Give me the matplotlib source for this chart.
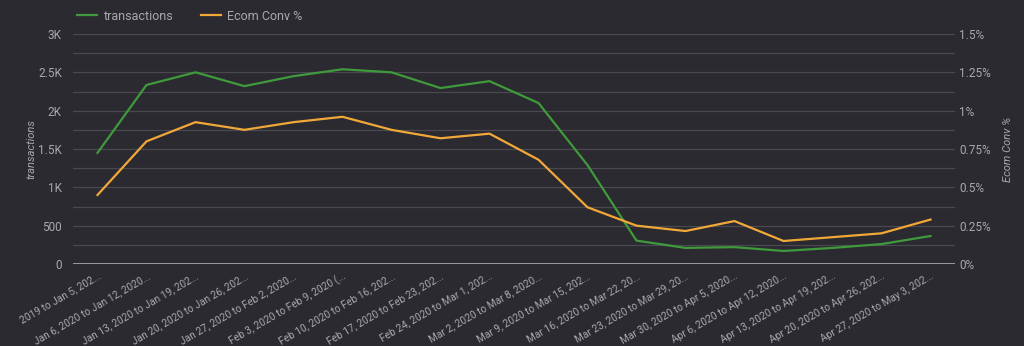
import numpy as np
import matplotlib.pyplot as plt
from matplotlib.ticker import FuncFormatter

weeks = [
    "2019 to Jan 5, 202...",
    "Jan 6, 2020 to Jan 12, 2020...",
    "Jan 13, 2020 to Jan 19, 202...",
    "Jan 20, 2020 to Jan 26, 202...",
    "Jan 27, 2020 to Feb 2, 2020...",
    "Feb 3, 2020 to Feb 9, 2020 (...",
    "Feb 10, 2020 to Feb 16, 202...",
    "Feb 17, 2020 to Feb 23, 202...",
    "Feb 24, 2020 to Mar 1, 202...",
    "Mar 2, 2020 to Mar 8, 2020...",
    "Mar 9, 2020 to Mar 15, 202...",
    "Mar 16, 2020 to Mar 22, 20...",
    "Mar 23, 2020 to Mar 29, 20...",
    "Mar 30, 2020 to Apr 5, 2020...",
    "Apr 6, 2020 to Apr 12, 2020...",
    "Apr 13, 2020 to Apr 19, 202...",
    "Apr 20, 2020 to Apr 26, 202...",
    "Apr 27, 2020 to May 3, 202...",
]
transactions = [1450, 2335, 2500, 2320, 2450, 2540, 2500, 2295, 2385, 2100,
                1290, 305, 210, 220, 170, 210, 260, 365]
ecom_conv = [0.45, 0.80, 0.925, 0.875, 0.925, 0.96, 0.875, 0.82, 0.85, 0.68,
             0.37, 0.25, 0.215, 0.28, 0.15, 0.175, 0.20, 0.29]

bg = '#2b2a30'
grid_col = '#4a4950'
txt = '#a9a9ad'
green = '#3f9a3c'
orange = '#f2a838'

plt.rcParams['font.family'] = ['Roboto', 'DejaVu Sans']

fig = plt.figure(figsize=(10.24, 3.46), dpi=100, facecolor=bg)
ax = fig.add_axes([73/1024, 1-264/346, (955-73)/1024, (264-34)/346])
ax.set_facecolor(bg)
ax2 = ax.twinx()

x = np.arange(len(weeks))
l1, = ax.plot(x, transactions, color=green, lw=1.6, label='transactions')
l2, = ax2.plot(x, ecom_conv, color=orange, lw=1.6, label='Ecom Conv %')

ax.set_xlim(-0.5, len(weeks) - 0.5)
ax.set_ylim(0, 3000)
ax2.set_ylim(0, 1.5)
ax.set_yticks(np.arange(0, 3001, 500))
ax.set_yticks(np.arange(250, 3000, 500), minor=True)
ax2.set_yticks(np.arange(0, 1.51, 0.25))

def k_fmt(v, pos):
    if v == 0:
        return '0'
    if v < 1000:
        return '%d' % v
    return ('%g' % (v / 1000)) + 'K'

ax.yaxis.set_major_formatter(FuncFormatter(k_fmt))
ax2.yaxis.set_major_formatter(FuncFormatter(lambda v, p: '%g%%' % v))

ax.grid(axis='y', which='both', color=grid_col, lw=0.9)
ax.axhline(0, color='#9a9a9e', lw=1.4, zorder=3)

for a in (ax, ax2):
    for s in a.spines.values():
        s.set_visible(False)
    a.tick_params(axis='y', which='both', length=0, colors=txt, labelsize=8.5, pad=8)
ax2.tick_params(axis='y', pad=3)

ax.set_xticks(x)
ax.set_xticklabels(weeks, rotation=30, ha='right', rotation_mode='anchor',
                   fontsize=7.3, color=txt)
ax.tick_params(axis='x', length=0, pad=5)

ax.set_ylabel('transactions', color=txt, fontsize=8, style='italic', labelpad=1)
ax2.set_ylabel('Ecom Conv %', color=txt, fontsize=8, style='italic', labelpad=9)

fig.legend(handles=[l1, l2], loc='upper left', bbox_to_anchor=(66/1024, 1.005),
           ncol=2, frameon=False, fontsize=9, labelcolor=txt,
           handlelength=1.6, columnspacing=2.2, handletextpad=0.5)

fig.savefig('out.png', dpi=100, facecolor=bg)
